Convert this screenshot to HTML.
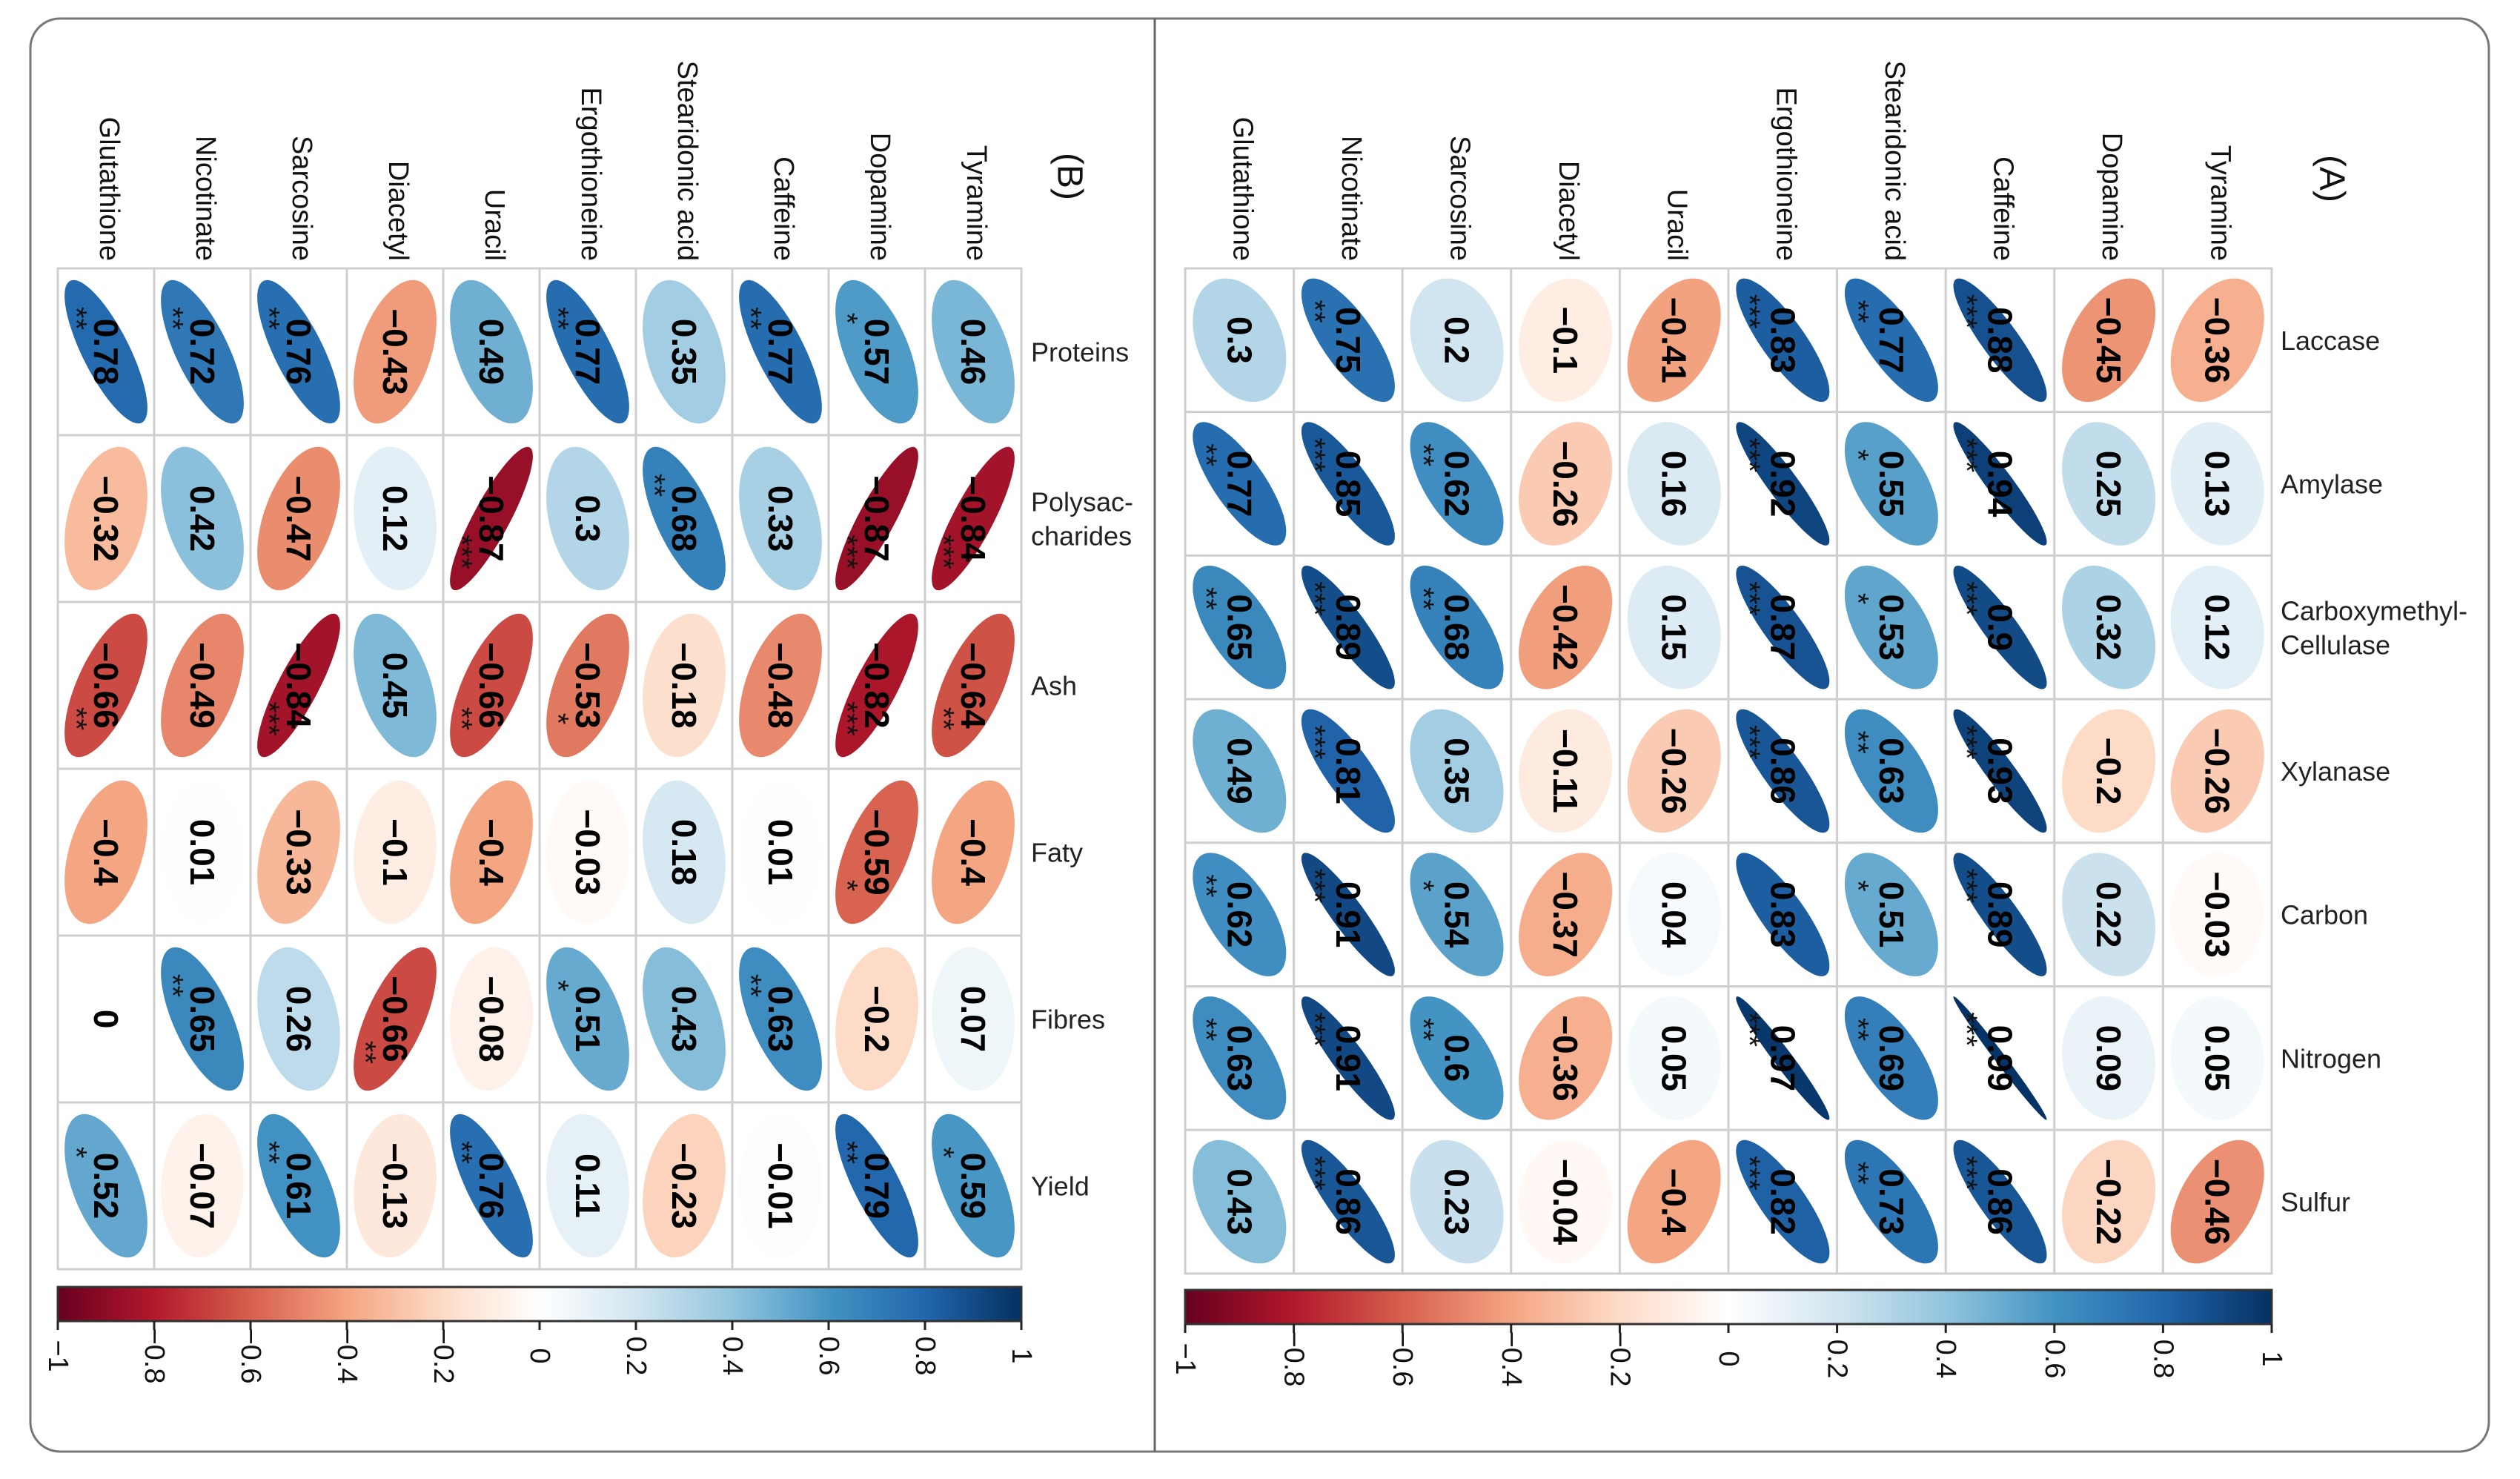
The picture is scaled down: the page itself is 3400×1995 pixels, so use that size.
<!DOCTYPE html>
<html><head><meta charset="utf-8"><style>
html,body{margin:0;padding:0;background:#fff;}
svg{display:block;font-family:"Liberation Sans",Arial,sans-serif;}
</style></head><body>
<svg id="fig" width="3400" height="1995" viewBox="0 0 3400 1995" xmlns="http://www.w3.org/2000/svg">
<path d="M81,25 H3318 A40,40 0 0 1 3358,65 V1918 A40,40 0 0 1 3318,1958 H81 A40,40 0 0 1 41,1918 V65 A40,40 0 0 1 81,25 Z" fill="#fff" stroke="#777" stroke-width="3"/>
<line x1="1558" y1="25" x2="1558" y2="1958" stroke="#666" stroke-width="3"/>
<g id="panelB"></g>
<g id="panelA"></g>
</svg>
<script>
const cols = ["Glutathione","Nicotinate","Sarcosine","Diacetyl","Uracil","Ergothioneine","Stearidonic acid","Caffeine","Dopamine","Tyramine"];
const rowsA = ["Laccase","Amylase","Carboxymethyl-|Cellulase","Xylanase","Carbon","Nitrogen","Sulfur"];
const valsA = [
 [0.3,0.75,0.2,-0.1,-0.41,0.83,0.77,0.88,-0.45,-0.36],
 [0.77,0.85,0.62,-0.26,0.16,0.92,0.55,0.94,0.25,0.13],
 [0.65,0.89,0.68,-0.42,0.15,0.87,0.53,0.9,0.32,0.12],
 [0.49,0.81,0.35,-0.11,-0.26,0.86,0.63,0.93,-0.2,-0.26],
 [0.62,0.91,0.54,-0.37,0.04,0.83,0.51,0.89,0.22,-0.03],
 [0.63,0.91,0.6,-0.36,0.05,0.97,0.69,0.99,0.09,0.05],
 [0.43,0.86,0.23,-0.04,-0.4,0.82,0.73,0.86,-0.22,-0.46]
];
const starsA = [
 ["","**","","","","***","**","***","",""],
 ["**","***","**","","","***","*","***","",""],
 ["**","***","**","","","***","*","***","",""],
 ["","***","","","","***","**","***","",""],
 ["**","***","*","","","","*","***","",""],
 ["**","***","**","","","***","**","***","",""],
 ["","***","","","","***","**","***","",""]
];
const rowsB = ["Proteins","Polysac-|charides","Ash","Faty","Fibres","Yield"];
const valsB = [
 [0.78,0.72,0.76,-0.43,0.49,0.77,0.35,0.77,0.57,0.46],
 [-0.32,0.42,-0.47,0.12,-0.87,0.3,0.68,0.33,-0.87,-0.84],
 [-0.66,-0.49,-0.84,0.45,-0.66,-0.53,-0.18,-0.48,-0.82,-0.64],
 [-0.4,0.01,-0.33,-0.1,-0.4,-0.03,0.18,0.01,-0.59,-0.4],
 [0,0.65,0.26,-0.66,-0.08,0.51,0.43,0.63,-0.2,0.07],
 [0.52,-0.07,0.61,-0.13,0.76,0.11,-0.23,-0.01,0.79,0.59]
];
const starsB = [
 ["**","**","**","","","**","","**","*",""],
 ["","","","","***","","**","","***","***"],
 ["**","","***","","**","*","","","***","**"],
 ["","","","","","","","","*",""],
 ["","**","","**","","*","","**","",""],
 ["*","","**","","**","","","","**","*"]
];
const tickVals = [-1,-0.8,-0.6,-0.4,-0.2,0,0.2,0.4,0.6,0.8,1];
const tickLabels = ["\u22121","\u22120.8","\u22120.6","\u22120.4","\u22120.2","0","0.2","0.4","0.6","0.8","1"];
const palette = ["#67001F","#B2182B","#D6604D","#F4A582","#FDDBC7","#FFFFFF","#D1E5F0","#92C5DE","#4393C3","#2166AC","#053061"];

const NS="http://www.w3.org/2000/svg";
function mk(tag, attrs, parent){const e=document.createElementNS(NS,tag);for(const k in attrs)e.setAttribute(k,attrs[k]);parent.appendChild(e);return e;}
function hex(c){return [parseInt(c.substr(1,2),16),parseInt(c.substr(3,2),16),parseInt(c.substr(5,2),16)];}
function colorOf(r){
  const p=(r+1)/2*(palette.length-1);const i=Math.min(Math.floor(p),palette.length-2);const f=p-i;
  const a=hex(palette[i]),b=hex(palette[i+1]);
  return "rgb("+a.map((v,k)=>Math.round(v+(b[k]-v)*f)).join(",")+")";
}
function fmt(v){if(v===0)return "0";let s=String(Math.abs(v));return (v<0?"\u2212":"")+s;}

function drawPanel(g, cfg){
  const {x0,y0,cw,rh,rows,vals,stars,labelX,tag,tagX,tagY,cbY,fs} = cfg;
  const nR=rows.length,nC=cols.length;
  const xPos=c=>x0+(c+0.5)*cw, yPos=r=>y0+(r+0.5)*rh;
  for(let r=0;r<nR;r++)for(let c=0;c<nC;c++){
    const cell=mk("rect",{x:x0+c*cw,y:y0+r*rh,width:cw,height:rh,fill:"#fff",stroke:"#cfcfcf","stroke-width":3},g);
    
    
  }
  for(let r=0;r<nR;r++)for(let c=0;c<nC;c++){
    const v=vals[r][c],cx=xPos(c),cy=yPos(r);
    const d=Math.acos(Math.max(-1,Math.min(1,v)));
    let pts=[];
    for(let k=0;k<72;k++){const t=k/72*2*Math.PI;
      pts.push((cx+0.43*cw*Math.cos(t+d/2)).toFixed(1)+","+(cy+0.43*rh*Math.cos(t-d/2)).toFixed(1));}
    const el=mk("polygon",{points:pts.join(" "),fill:colorOf(v)},g);
    
    
    const tx=mk("text",{x:cx,y:cy,transform:"rotate(90 "+cx+" "+cy+")","text-anchor":"middle","dominant-baseline":"central","font-size":fs,"font-weight":"bold",fill:"#000"},g);
    tx.textContent=fmt(v);
    
    
    const s=stars[r][c];
    if(s){
      const sx=cx-0.31*cw, sy=cy+(v>=0?-0.2:0.2)*rh;
      const st=mk("text",{x:sx,y:sy,transform:"rotate(90 "+sx+" "+sy+")","text-anchor":"middle","dominant-baseline":"central","font-size":40,fill:"#111"},g);
      st.textContent=s;
      
      
    }
  }
  cols.forEach((n,c)=>{
    const lx=xPos(c)+4, ly=y0-10;
    const t=mk("text",{x:lx,y:ly,transform:"rotate(90 "+lx+" "+ly+")","text-anchor":"end","dominant-baseline":"central","font-size":38,fill:"#111"},g);
    t.textContent=n;
    
    
  });
  rows.forEach((n,r)=>{
    const parts=n.split("|");
    const t=mk("text",{x:labelX,y:yPos(r)-(parts.length-1)*23,"dominant-baseline":"central","font-size":36,fill:"#222"},g);
    
    
    parts.forEach((p,i)=>{const sp=mk("tspan",{x:labelX,dy:i?46:0},t);sp.textContent=p;});
  });
  const tt=mk("text",{x:tagX,y:tagY,transform:"rotate(90 "+tagX+" "+tagY+")","text-anchor":"middle","dominant-baseline":"central","font-size":48,fill:"#111"},g);
  tt.textContent="("+tag+")";
  
  
  const W=nC*cw;
  const gid="grad"+tag;
  const defs=mk("defs",{},g);
  const lg=mk("linearGradient",{id:gid,x1:0,y1:0,x2:1,y2:0},defs);
  palette.forEach((p,i)=>mk("stop",{offset:(i/(palette.length-1)),"stop-color":p},lg));
  const bar=mk("rect",{x:x0,y:cbY,width:W,height:46,fill:"url(#"+gid+")",stroke:"#333","stroke-width":3},g);
  
  
  const cbX=v=>x0+(v+1)/2*W;
  tickVals.forEach((v,i)=>{
    const tx=cbX(v);
    const tl=mk("line",{x1:tx,y1:cbY+46,x2:tx,y2:cbY+58,stroke:"#222","stroke-width":3},g);
    
    
    const ly=cbY+93;
    const t=mk("text",{x:tx,y:ly,transform:"rotate(90 "+tx+" "+ly+")","text-anchor":"middle","dominant-baseline":"central","font-size":38,fill:"#111"},g);
    t.textContent=tickLabels[i];
    
    
  });
}
drawPanel(document.getElementById("panelB"),{x0:78,y0:362,cw:130,rh:225,rows:rowsB,vals:valsB,stars:starsB,labelX:1391,tag:"B",tagX:1443,tagY:238,cbY:1736,fs:46});
drawPanel(document.getElementById("panelA"),{x0:1599,y0:362,cw:146.6,rh:193.7,rows:rowsA,vals:valsA,stars:starsA,labelX:3077,tag:"A",tagX:3146,tagY:241,cbY:1740,fs:46});
</script>
</body></html>
